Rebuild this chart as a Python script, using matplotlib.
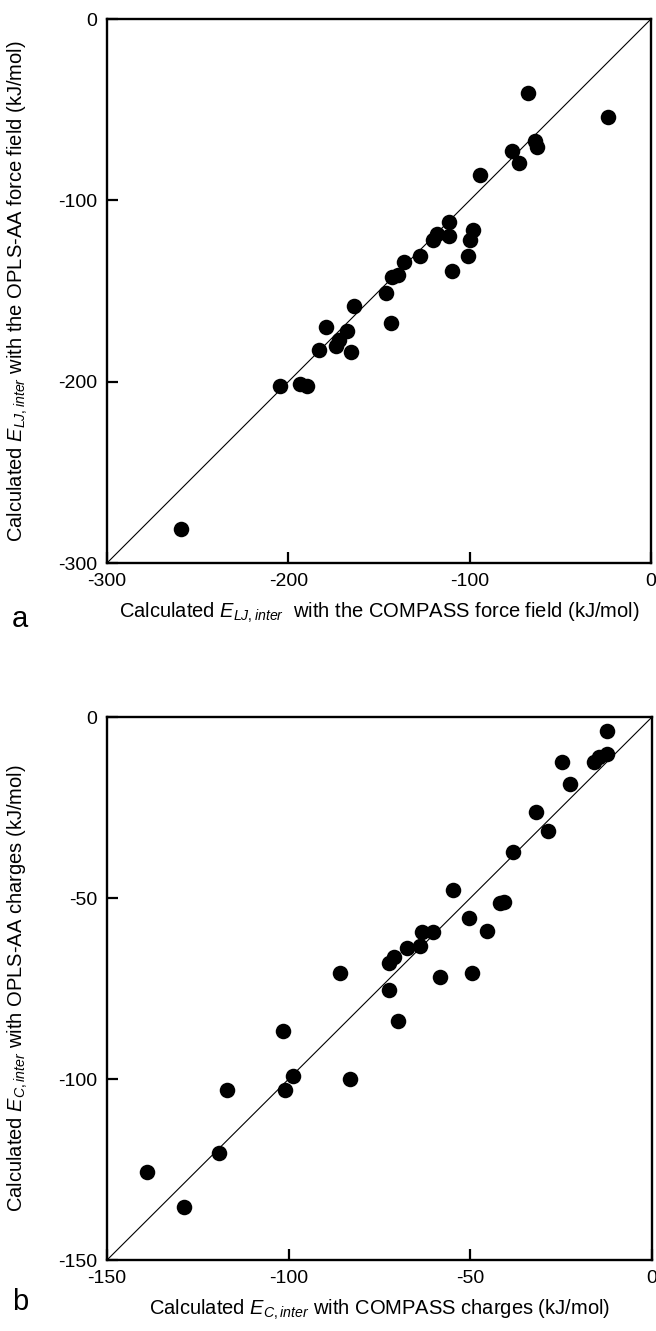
import matplotlib
matplotlib.use("Agg")
import matplotlib.pyplot as plt

plt.rcParams['font.family'] = ['Liberation Sans', 'DejaVu Sans']
plt.rcParams['mathtext.fontset'] = 'custom'
plt.rcParams['mathtext.rm'] = 'Liberation Sans'
plt.rcParams['mathtext.it'] = 'Liberation Sans:italic'
plt.rcParams['axes.unicode_minus'] = False

# panel a: Lennard-Jones interaction energies (kJ/mol)
lj_compass = [-67.6, -64, -63, -76.8, -72.6, -94.3, -111.4, -118.2, -120, -111.4,
              -98, -99.8, -100.7, -110, -127.4, -136.2, -139.7, -143, -146.3, -164,
              -179.4, -143.4, -167.5, -171.9, -173.7, -182.9, -165.4, -204.4, -193.5,
              -189.5, -259.4, -23.5]
lj_opls = [-41, -67.3, -70.4, -72.6, -79.2, -86, -112, -118.6, -122, -119.7,
           -116.4, -122, -130.7, -139, -130.7, -134.2, -141.2, -142.5, -151, -158,
           -169.7, -167.9, -172, -177, -180.4, -182.6, -183.9, -202.2, -201.3,
           -202.4, -281.5, -54.2]

# panel b: Coulomb interaction energies (kJ/mol)
c_compass = [-12.3, -12.5, -14.5, -16, -24.8, -22.7, -31.9, -28.7, -38.2, -54.7,
             -41.8, -40.7, -50.4, -45.5, -63.2, -60.4, -63.8, -67.3, -70.9, -72.3,
             -86, -58.3, -49.6, -72.4, -69.8, -101.5, -98.7, -83.1, -101, -116.9,
             -119.1, -138.9, -128.8]
c_opls = [-3.9, -10.3, -11, -12.5, -12.3, -18.5, -26.3, -31.4, -37.4, -47.8,
          -51.5, -51, -55.6, -59.1, -59.5, -59.3, -63.2, -63.7, -66.2, -67.9,
          -70.6, -71.7, -70.6, -75.4, -84, -86.7, -99.1, -100, -102.9, -102.9,
          -120.3, -125.6, -135.4]

fig = plt.figure(figsize=(6.56, 13.31), dpi=100)
ax_a = fig.add_axes([0.1631, 0.577, 0.8293, 0.4087])
ax_b = fig.add_axes([0.1631, 0.0533, 0.8308, 0.408])


def style_panel(ax, lim, ticks, xlabel, ylabel):
    ax.plot([lim, 0], [lim, 0], color='black', lw=0.8, zorder=1)
    ax.set_xlim(lim, 0)
    ax.set_ylim(lim, 0)
    ax.set_xticks(ticks)
    ax.set_yticks(ticks)
    ax.tick_params(direction='in', length=8, width=1.6, labelsize=14, pad=7,
                   top=False, right=False)
    for sp in ax.spines.values():
        sp.set_linewidth(1.7)
    ax.set_xlabel(xlabel, fontsize=14.5, labelpad=8)
    ax.set_ylabel(ylabel, fontsize=14.5)
    ax.yaxis.set_label_coords(-0.142, 0.5)


ax_a.scatter(lj_compass, lj_opls, s=125, color='black', zorder=2, linewidths=0)
style_panel(ax_a, -300, [-300, -200, -100, 0],
            r'Calculated $E_{LJ,inter}$  with the COMPASS force field (kJ/mol)',
            r'Calculated $E_{LJ,inter}$ with the OPLS-AA force field (kJ/mol)')

ax_b.scatter(c_compass, c_opls, s=125, color='black', zorder=2, linewidths=0)
style_panel(ax_b, -150, [-150, -100, -50, 0],
            r'Calculated $E_{C,inter}$ with COMPASS charges (kJ/mol)',
            r'Calculated $E_{C,inter}$ with OPLS-AA charges (kJ/mol)')

fig.text(0.018, 0.535, 'a', fontsize=21, va='center')
fig.text(0.018, 0.022, 'b', fontsize=21, va='center')

fig.savefig('out.png', dpi=100)
